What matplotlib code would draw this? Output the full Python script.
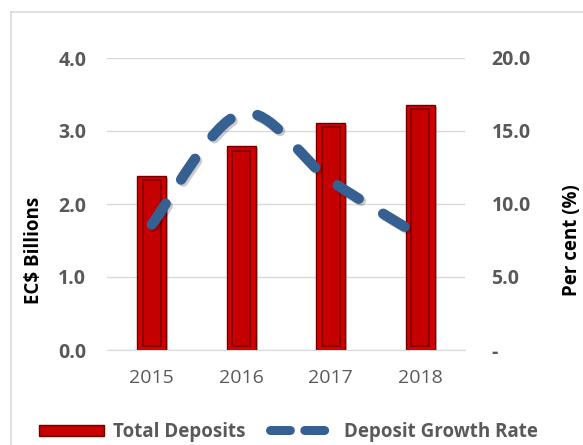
import matplotlib
matplotlib.use("Agg")
import matplotlib.pyplot as plt
import matplotlib.patheffects as pe
from matplotlib.path import Path
from matplotlib.patches import PathPatch, Patch, Rectangle
from matplotlib.lines import Line2D
from matplotlib.legend_handler import HandlerPatch

# data
years = ["2015", "2016", "2017", "2018"]
deposits = [2.39, 2.79, 3.11, 3.36]        # EC$ billions
growth_rate = [8.6, 16.2, 11.6, 7.8]       # per cent
left_ticks = [0.0, 1.0, 2.0, 3.0, 4.0]
right_ticks = [0.0, 5.0, 10.0, 15.0, 20.0]

W, H = 583, 445
plt.rcParams['font.family'] = ['Open Sans', 'DejaVu Sans']

fig = plt.figure(figsize=(W / 100, H / 100), dpi=100)
fig.patch.set_facecolor('white')

# chart frame (light grey border, top and left visible)
fig.add_artist(Line2D([10.5 / W, 10.5 / W], [0, 1 - 11.5 / H], transform=fig.transFigure, color='#D9D9D9', lw=1.2))
fig.add_artist(Line2D([10.5 / W, 1], [1 - 11.5 / H, 1 - 11.5 / H], transform=fig.transFigure, color='#D9D9D9', lw=1.2))

ax = fig.add_axes([107 / W, 1 - 350 / H, (465 - 107) / W, (350 - 58) / H])
ax2 = ax.twinx()

x = list(range(len(years)))

# bars with a bevelled look
inset = 0.06
bars = ax.bar(x, deposits, width=0.32, color='#D40000', edgecolor='#6E0000', linewidth=1.0, zorder=2)
for b in bars:
    b.set_path_effects([pe.SimplePatchShadow(offset=(1.5, -1.5), alpha=0.25), pe.Normal()])
ax.bar(x, [v - 2 * inset for v in deposits], bottom=inset, width=0.2,
       color='#C40000', edgecolor='#800000', linewidth=1.3, zorder=3)

ax.set_xlim(-0.5, 3.5)
ax.set_ylim(0, 4)
ax.set_yticks(left_ticks)
ax.set_yticklabels([f'{v:.1f}' for v in left_ticks])
ax.set_xticks(x)
ax.set_xticklabels(years)
ax.set_axisbelow(True)
ax.grid(axis='y', color='#D9D9D9', lw=1.0, zorder=0)
for s in ['top', 'left', 'right']:
    ax.spines[s].set_visible(False)
ax.spines['bottom'].set_color('#D9D9D9')
ax.tick_params(axis='y', length=0, pad=15, labelsize=14, labelcolor='#595959')
ax.tick_params(axis='x', length=0, pad=14, labelsize=14, labelcolor='#595959')

# smoothed growth-rate line (cubic bezier through the points)
pts = list(zip(x, growth_rate))
k = 1 / 6
verts = [pts[0]]
codes = [Path.MOVETO]
for i in range(len(pts) - 1):
    p_prev = pts[i - 1] if i > 0 else pts[i]
    p0, p1 = pts[i], pts[i + 1]
    p_next = pts[i + 2] if i + 2 < len(pts) else p1
    c1 = (p0[0] + (p1[0] - p_prev[0]) * k, p0[1] + (p1[1] - p_prev[1]) * k)
    c2 = (p1[0] - (p_next[0] - p0[0]) * k, p1[1] - (p_next[1] - p0[1]) * k)
    verts += [c1, c2, p1]
    codes += [Path.CURVE4] * 3
curve = PathPatch(Path(verts, codes), fill=False, edgecolor='#376092', lw=7.5,
                  linestyle=(0, (2.4, 2.75)), capstyle='round', zorder=4)
curve.set_path_effects([pe.SimpleLineShadow(offset=(1.5, -1.5), alpha=0.2), pe.Normal()])
ax2.add_patch(curve)

ax2.set_ylim(0, 20)
ax2.set_yticks(right_ticks)
ax2.set_yticklabels(['-' if v == 0 else f'{v:.1f}' for v in right_ticks])
for s in ['top', 'left', 'right', 'bottom']:
    ax2.spines[s].set_visible(False)
ax2.tick_params(axis='y', length=0, pad=19, labelsize=14, labelcolor='#595959')

for t in ax.get_yticklabels() + ax2.get_yticklabels():
    t.set_fontweight('bold')
for t in ax.get_xticklabels():
    t.set_fontweight('medium')

fig.text(34 / W, 1 - 250 / H, 'EC$ Billions', rotation=90, ha='center', va='center',
         fontsize=13.5, fontweight='bold', color='black')
fig.text(572 / W, 1 - 240 / H, 'Per cent (%)', rotation=90, ha='center', va='center',
         fontsize=13.5, fontweight='bold', color='black')


def thin_bar(legend, orig_handle, xdescent, ydescent, width, height, fontsize):
    return Rectangle((-xdescent, -ydescent + height * 0.5 - 4), width, 8)


handles = [Patch(facecolor='#C80000', edgecolor='#6E0000', lw=1.0),
           Line2D([], [], color='#376092', lw=6.5, dashes=(2.2, 1.6), dash_capstyle='round')]
leg = fig.legend(handles, ['Total Deposits', 'Deposit Growth Rate'], loc='center',
                 bbox_to_anchor=(288 / W, 1 - 432 / H), ncol=2, frameon=False,
                 prop={'size': 13.5, 'weight': 'bold'}, handlelength=3.5,
                 handletextpad=0.45, columnspacing=1.3,
                 handler_map={Patch: HandlerPatch(patch_func=thin_bar)})
for t in leg.get_texts():
    t.set_color('#595959')

fig.savefig('out.png', dpi=100)
